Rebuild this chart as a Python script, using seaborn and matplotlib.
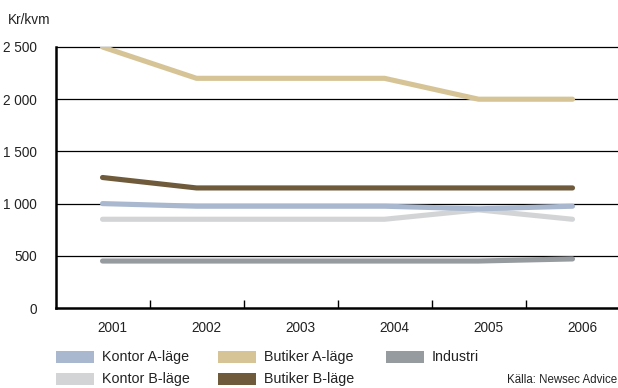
import matplotlib
matplotlib.use("Agg")
import matplotlib.pyplot as plt
from matplotlib.patches import Rectangle
import numpy as np
import pandas as pd
import seaborn as sns

# Hyresnivåer, kr/kvm
years = ["2001", "2002", "2003", "2004", "2005", "2006"]
kontor_a = [1000, 975, 975, 975, 950, 975]
kontor_b = [850, 850, 850, 850, 940, 850]
butiker_a = [2500, 2200, 2200, 2200, 2000, 2000]
butiker_b = [1250, 1150, 1150, 1150, 1150, 1150]
industri = [450, 450, 450, 450, 450, 470]

series_names = ["Kontor A-läge", "Kontor B-läge", "Butiker A-läge", "Butiker B-läge", "Industri"]
series_values = [kontor_a, kontor_b, butiker_a, butiker_b, industri]
series_colors = ["#a9b8cf", "#d2d4d6", "#d6c497", "#6f5b3b", "#969ba0"]
y_ticks = [0, 500, 1000, 1500, 2000, 2500]
y_tick_labels = ["0", "500", "1 000", "1 500", "2 000", "2 500"]
source_text = "Källa: Newsec Advice"
unit_text = "Kr/kvm"

rows = []
for name, vals in zip(series_names, series_values):
    for i, v in enumerate(vals):
        rows.append({"idx": i, "value": v, "serie": name})
df = pd.DataFrame(rows)
palette = dict(zip(series_names, series_colors))
draw_order = ["Industri", "Kontor B-läge", "Kontor A-läge", "Butiker B-läge", "Butiker A-läge"]

sns.set_theme(style="white")
plt.rcParams["font.family"] = ["Liberation Sans", "DejaVu Sans"]

W, H = 618, 388
fig = plt.figure(figsize=(W / 100, H / 100), dpi=100)
ax_left, ax_bottom_px, ax_top_px = 56, 308, 47
ax = fig.add_axes([ax_left / W, (H - ax_bottom_px) / H,
                   (W - ax_left) / W, (ax_bottom_px - ax_top_px) / H])

# horizontal reference lines
for yv in y_ticks[1:]:
    ax.axhline(yv, color="black", lw=0.9, zorder=1, clip_on=False)

sns.lineplot(data=df, x="idx", y="value", hue="serie", hue_order=draw_order,
             palette=palette, linewidth=3.7, legend=False, sort=False,
             estimator=None, ax=ax, zorder=3)
for ln in ax.get_lines():
    ln.set_solid_capstyle("round")
    ln.set_solid_joinstyle("round")

ax.set_xlim(-0.495, 5.484)
ax.set_ylim(0, 2500)
ax.set_xlabel("")
ax.set_ylabel("")

for side in ["top", "right"]:
    ax.spines[side].set_visible(False)
for side in ["left", "bottom"]:
    ax.spines[side].set_color("black")
    ax.spines[side].set_linewidth(1.8)
    ax.spines[side].set_zorder(4)

# separator ticks between years, year labels on minor ticks
ax.set_xticks(np.arange(len(years) - 1) + 0.5)
ax.set_xticklabels([])
ax.tick_params(axis="x", which="major", direction="in", length=6, width=1.0,
               color="black", bottom=True)
ax.set_xticks(np.arange(len(years)) + 0.11, minor=True)
ax.set_xticklabels(years, minor=True)
ax.tick_params(axis="x", which="minor", length=0, pad=9, labelsize=9.8,
               labelcolor="#222222")

ax.set_yticks(y_ticks)
ax.set_yticklabels(y_tick_labels)
ax.tick_params(axis="y", length=0, pad=14, labelsize=9.8, labelcolor="#222222")

fig.text(8 / W, 1 - 20 / H, unit_text, fontsize=9.8, color="#222222",
         ha="left", va="center")

# legend
col_x = [56, 218, 386]
row_y = [357, 379]
sw_w, sw_h = 38, 12
legend_pos = [(0, 0), (0, 1), (1, 0), (1, 1), (2, 0)]
for (c, r), name, color in zip(legend_pos, series_names, series_colors):
    x0, yc = col_x[c], row_y[r]
    fig.patches.append(Rectangle((x0 / W, (H - yc - sw_h / 2) / H), sw_w / W, sw_h / H,
                                 transform=fig.transFigure, facecolor=color,
                                 edgecolor="none"))
    fig.text((x0 + sw_w + 8) / W, 1 - yc / H, name, fontsize=10.3,
             color="#222222", ha="left", va="center")

fig.text(617 / W, 1 - 380 / H, source_text, fontsize=8.3, color="#222222",
         ha="right", va="center")

fig.savefig("out.png", dpi=100)
